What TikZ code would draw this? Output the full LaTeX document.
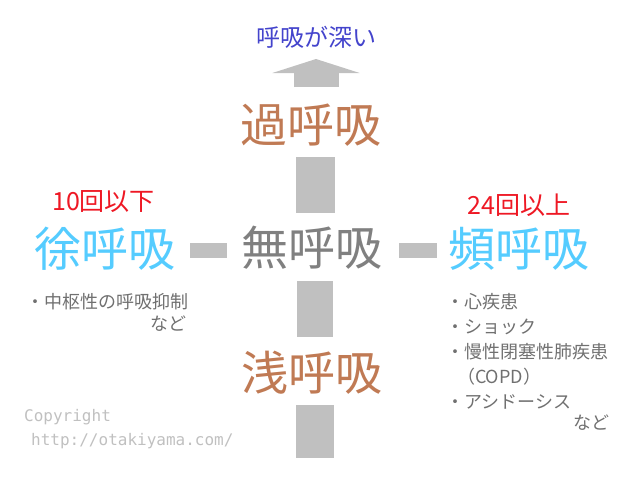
\documentclass[tikz,border=0pt]{standalone}
\usepackage{fontspec}
\setmainfont{Noto Sans CJK JP}
\newfontfamily\urlfont{DejaVu Sans Mono}
\usepackage{tikz}
\usetikzlibrary{arrows.meta}

\definecolor{deepblue}{RGB}{68,68,204}
\definecolor{depthbrown}{RGB}{192,122,84}
\definecolor{ratecyan}{RGB}{85,204,255}
\definecolor{nonegray}{RGB}{128,128,128}
\definecolor{listgray}{RGB}{112,112,112}
\definecolor{countred}{RGB}{238,24,36}
\definecolor{barcol}{RGB}{192,192,192}
\definecolor{copygray}{RGB}{192,192,192}

\tikzset{
  mainword/.style={font=\fontsize{47}{52}\selectfont, inner sep=0pt},
  count/.style={font=\fontsize{25}{28}\selectfont, text=countred, inner sep=0pt},
  smalltext/.style={font=\fontsize{18}{25}\selectfont, text=listgray, inner sep=0pt, align=left},
  gbar/.style={draw=barcol, line width=#1},
}

\begin{document}
\begin{tikzpicture}[x=1pt, y=-1pt]
           \useasboundingbox (0,0) rectangle (640,480);

           % Ordene
           \node[font=\fontsize{24}{28}\selectfont, text=deepblue, inner sep=0pt] (deep) at (316,37) {呼吸が深い};
           \node[mainword, text=depthbrown] (over) at (311,125) {過呼吸};
           \node[mainword, text=nonegray] (none) at (311.5,248) {無呼吸};
           \node[mainword, text=ratecyan] (slow) at (105,248.5) {徐呼吸};
           \node[mainword, text=ratecyan] (fast) at (519,249) {頻呼吸};
           \node[mainword, text=depthbrown] (shallow) at (311.5,372.5) {浅呼吸};
           \coordinate (bottom) at (315,458);
           \coordinate (row) at (0,250.5);

           % Antall
           \node[count] (slowcount) at (103.5,202) {10回以下};
           \node[count] (fastcount) at (519,205) {24回以上};

           % Pilen opp
           \draw[gbar=45pt, -{Triangle[width=87pt,length=14pt]}, shorten <=38pt, shorten >=22pt]
             (over.center -| deep.center) -- (deep.center);

           % Stolpene
           \draw[gbar=39pt, shorten <=32pt, shorten >=35pt] (over.center -| bottom) -- (none.center -| bottom);
           \draw[gbar=36pt, shorten <=33pt, shorten >=35.5pt] (none.center -| bottom) -- (shallow.center -| bottom);
           \draw[gbar=38pt, shorten <=32.5pt] (shallow.center -| bottom) -- (bottom);
           \draw[gbar=15pt, shorten <=85pt, shorten >=84.5pt] (slow.center |- row) -- (none.center |- row);
           \draw[gbar=15pt, shorten <=87.5pt, shorten >=82pt] (none.center |- row) -- (fast.center |- row);

           % Sykdommer
           \node[smalltext, anchor=north west] (slowlist) at (26,293) {・中枢性の呼吸抑制};
           \node[smalltext, anchor=east] (slowetc) at (187,324) {など};
           \node[smalltext, anchor=north west] (fastlist) at (446,293)
             {・心疾患\\・ショック\\・慢性閉塞性肺疾患\\\hspace{0.6em}（COPD）\\・アシドーシス};
           \node[smalltext, anchor=east] (fastetc) at (610,423) {など};

           % Copyright
           \node[font=\urlfont\fontsize{16}{24}\selectfont, text=copygray, inner sep=0pt, align=left, anchor=north west]
             (copy) at (24,409) {Copyright\\\hspace{7pt}http://otakiyama.com/};
         \end{tikzpicture}
\end{document}
